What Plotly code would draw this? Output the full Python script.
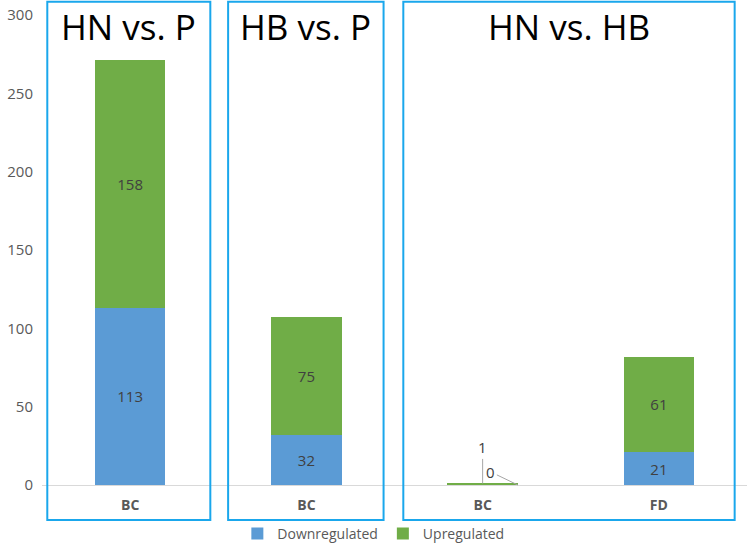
import plotly.graph_objects as go

# Data
categories = ["HN vs. P|BC", "HB vs. P|BC", "HN vs. HB|BC", "HN vs. HB|FD"]
tick_labels = ["BC", "BC", "BC", "FD"]
downregulated = [113, 32, 0, 21]
upregulated = [158, 75, 1, 61]
group_titles = ["HN vs. P", "HB vs. P", "HN vs. HB"]

BLUE = "#5B9BD5"
GREEN = "#70AD47"
BOX = "#1AA7EC"
FONT = "Open Sans"

def lbl(vals):
    return [str(v) if v >= 5 else "" for v in vals]

fig = go.Figure()
fig.add_trace(go.Bar(
    name="Downregulated", x=categories, y=downregulated, marker_color=BLUE,
    marker_line_width=0, text=lbl(downregulated), textposition="inside",
    insidetextanchor="middle", textfont=dict(color="#404040", size=15, family=FONT),
))
fig.add_trace(go.Bar(
    name="Upregulated", x=categories, y=upregulated, marker_color=GREEN,
    marker_line_width=0, text=lbl(upregulated), textposition="inside",
    insidetextanchor="middle", textfont=dict(color="#404040", size=15, family=FONT),
))

# small-value labels with leader lines (HN vs. HB BC)
fig.add_annotation(x=categories[2], y=downregulated[2] + upregulated[2], text=str(upregulated[2]),
                   showarrow=True, arrowhead=0, arrowwidth=1, arrowcolor="#A6A6A6",
                   ax=0, ay=-36, font=dict(size=15, color="#404040", family=FONT))
fig.add_annotation(x=2.2, y=downregulated[2], text=str(downregulated[2]),
                   showarrow=True, arrowhead=0, arrowwidth=1, arrowcolor="#A6A6A6",
                   ax=-27, ay=-13, font=dict(size=15, color="#404040", family=FONT))

# group boxes and titles
boxes = [(-0.47, 0.455), (0.556, 1.438), (1.55, 3.43)]
for (x0, x1), title in zip(boxes, group_titles):
    fig.add_shape(type="rect", xref="x", yref="paper", x0=x0, x1=x1, y0=-0.0745, y1=1.028,
                  line=dict(color=BOX, width=2), fillcolor="rgba(0,0,0,0)", layer="above")
    fig.add_annotation(xref="x", yref="paper", x=(x0 + x1) / 2, y=0.975, text=title,
                       showarrow=False, yanchor="middle",
                       font=dict(size=35, color="#000000", family=FONT))

fig.update_layout(
    width=749, height=543, barmode="stack", bargap=0.6,
    margin=dict(l=42, r=2, t=15, b=58, autoexpand=False),
    plot_bgcolor="white", paper_bgcolor="white",
    font=dict(family=FONT, color="#595959", size=14),
    legend=dict(orientation="h", x=0.47, xanchor="center", y=-0.104, yanchor="middle",
                font=dict(size=14, color="#595959"), traceorder="normal",
                bgcolor="rgba(0,0,0,0)", itemwidth=30),
    xaxis=dict(tickmode="array", tickvals=categories,
               ticktext=["<b>%s</b>" % t for t in tick_labels],
               showgrid=False, showline=False, ticks="", range=[-0.5, 3.5],
               ticklabelstandoff=10, automargin=False,
               tickfont=dict(size=14, color="#595959")),
    yaxis=dict(range=[0, 300], dtick=50, showgrid=False, zeroline=True,
               zerolinecolor="#D9D9D9", zerolinewidth=1, showline=False, ticks="",
               automargin=False, ticklabelstandoff=8,
               tickfont=dict(size=15, color="#595959")),
)

fig.write_html("out.html", config={"displayModeBar": False},
               post_script="document.body.style.margin='0';document.body.style.overflow='hidden';")
